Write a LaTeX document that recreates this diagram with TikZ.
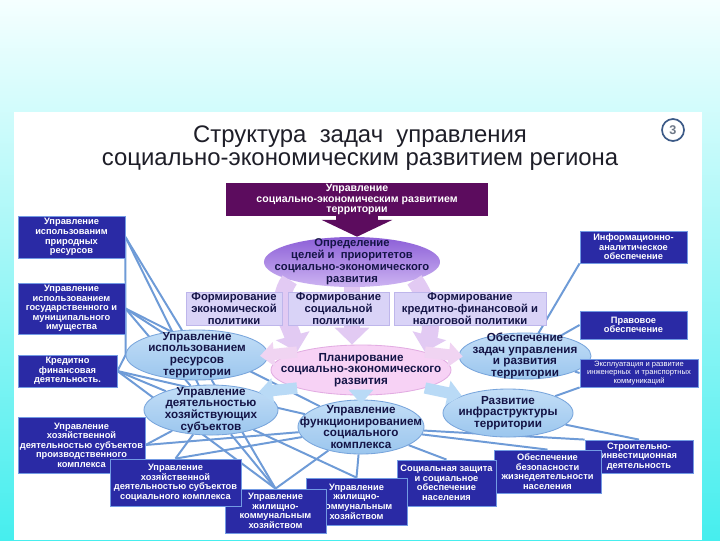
\documentclass[tikz,border=0pt]{standalone}
\usepackage{fontspec}
\setmainfont{Liberation Sans}
\usetikzlibrary{shapes.geometric, arrows.meta}

\definecolor{skytop}{RGB}{245, 255, 255}
\definecolor{skymid}{RGB}{140, 245, 245}
\definecolor{skybot}{RGB}{70, 238, 238}
\definecolor{titlegray}{RGB}{30, 30, 40}
\definecolor{numedge}{RGB}{60, 90, 135}
\definecolor{numgray}{RGB}{110, 120, 135}
\definecolor{plum}{RGB}{92, 12, 94}
\definecolor{goaltop}{RGB}{140, 95, 215}
\definecolor{goalbot}{RGB}{205, 180, 242}
\definecolor{pinkfill}{RGB}{247, 210, 245}
\definecolor{pinkedge}{RGB}{226, 172, 226}
\definecolor{elltop}{RGB}{195, 222, 247}
\definecolor{ellbot}{RGB}{155, 198, 238}
\definecolor{elledge}{RGB}{120, 165, 220}
\definecolor{navytext}{RGB}{20, 20, 70}
\definecolor{lavfill}{RGB}{217, 211, 247}
\definecolor{lavedge}{RGB}{190, 182, 235}
\definecolor{boxblue}{RGB}{42, 42, 165}
\definecolor{boxedge}{RGB}{115, 155, 228}
\definecolor{wireblue}{RGB}{110, 155, 215}
\definecolor{bigarr}{RGB}{226, 202, 243}
\definecolor{paleblue}{RGB}{185, 218, 246}
\definecolor{palepink}{RGB}{240, 212, 242}

\pgfdeclarelayer{bg}
\pgfdeclarelayer{wires}
\pgfsetlayers{bg,wires,main}

\tikzset{
  wire/.style={draw=wireblue, line width=1.4pt},
  darkbox/.style={rectangle, draw=boxedge, fill=boxblue, line width=0.6pt, inner sep=0pt,
    align=center, text=white, font=\bfseries\fontsize{6.6}{6.8}\selectfont},
  lavbox/.style={rectangle, draw=lavedge, fill=lavfill, line width=0.5pt, inner sep=0pt,
    align=center, text=navytext, font=\bfseries\fontsize{8}{8.3}\selectfont},
  topbox/.style={rectangle, fill=plum, inner sep=0pt, align=center, text=white,
    font=\bfseries\fontsize{7.5}{7.6}\selectfont},
  blueell/.style={ellipse, draw=elledge, line width=0.6pt, top color=elltop, bottom color=ellbot, inner sep=0pt},
  planell/.style={ellipse, draw=pinkedge, line width=0.6pt, fill=pinkfill, inner sep=0pt},
  goalell/.style={ellipse, top color=goaltop, bottom color=goalbot, inner sep=0pt},
  elltext/.style={align=center, text=navytext, font=\bfseries\fontsize{8.3}{8.3}\selectfont},
  toparrow/.style={draw=plum, line width=30pt, -{Triangle[width=50pt,length=12pt]}},
  bigarrow/.style={draw=bigarr, line width=12pt, -{Triangle[width=24pt,length=12pt]}},
  palearrow/.style={line width=8pt, -{Triangle[width=17pt,length=10pt]}},
}

\begin{document}
\begin{tikzpicture}[x=0.025cm, y=-0.025cm]
  \useasboundingbox (0,0) rectangle (720,540);

  % --- Background and white panel ---
  \begin{pgfonlayer}{bg}
    \shade[top color=skytop, middle color=skymid, bottom color=skybot] (0,0) rectangle (720,540);
    \fill[white] (14,112) rectangle (702,540);
  \end{pgfonlayer}

  % --- Title ---
  \node[font=\fontsize{17}{16.5}\selectfont, text=titlegray, align=center] (title) at (360,148)
    {Структура~ задач~ управления\\социально-экономическим развитием региона};
  \node[circle, draw=numedge, line width=1.2pt, fill=white, minimum size=0.55cm, inner sep=0pt,
    text=numgray, font=\bfseries\fontsize{9}{9}\selectfont] (num) at (673,130) {3};

  % --- Top level ---
  \node[topbox, minimum width=6.55cm, minimum height=0.825cm] (mgmt) at (357,199.5)
    {Управление\\социально-экономическим развитием\\территории};
  \node[goalell, minimum width=4.4cm, minimum height=1.25cm,
    label={[elltext, font=\bfseries\fontsize{8}{8.5}\selectfont]center:{Определение\\целей и~ приоритетов\\социально-экономического\\развития}}] (opr) at (352,262) {};

  % --- Ellipses ---
  \node[planell, minimum width=4.5cm, minimum height=1.25cm,
    label={[elltext]center:{Планирование\\социально-экономического\\развития}}] (plan) at (361,370) {};
  \node[blueell, minimum width=3.55cm, minimum height=1.25cm,
    label={[elltext]center:{Управление\\использованием\\ресурсов\\территории}}] (res) at (197,355) {};
  \node[blueell, minimum width=3.35cm, minimum height=1.25cm,
    label={[elltext]center:{Управление\\деятельностью\\хозяйствующих\\субъектов}}] (dey) at (211,410) {};
  \node[blueell, minimum width=3.15cm, minimum height=1.35cm,
    label={[elltext]center:{Управление\\функционированием\\социального\\комплекса}}] (fun) at (361,427) {};
  \node[blueell, minimum width=3.3cm, minimum height=1.15cm,
    label={[elltext]center:{Обеспечение\\задач управления\\и развития\\территории}}] (obe) at (525,356) {};
  \node[blueell, minimum width=3.25cm, minimum height=1.2cm,
    label={[elltext]center:{Развитие\\инфраструктуры\\территории}}] (raz) at (508,413) {};

  % --- Arrows ---
  \draw[toparrow] (mgmt.south) -- (mgmt.south |- opr.north);
  \draw[bigarrow] (opr.south west) to[out=235, in=105] (plan.north west);
  \draw[bigarrow] (opr.south) -- (opr.south |- plan.north);
  \draw[bigarrow] (opr.south east) to[out=-55, in=75] (plan.north east);
  \draw[palearrow, draw=palepink, shorten >=-6pt] (plan.north west) -- (res.east);
  \draw[palearrow, draw=paleblue] (plan.south west) -- (dey.north east);
  \draw[palearrow, draw=paleblue] ([yshift=4pt]plan.south) -- ([yshift=-3pt]fun.north);
  \draw[palearrow, draw=palepink, shorten >=-3pt] (plan.north east) -- (obe.west);
  \draw[palearrow, draw=paleblue] (plan.south east) -- (raz.north west);

  % --- Policy boxes ---
  \node[lavbox, minimum width=2.4cm, minimum height=0.825cm] (fecon) at (234,308.5)
    {Формирование\\экономической\\политики};
  \node[lavbox, minimum width=2.525cm, minimum height=0.825cm] (fsoc) at (338.5,308.5)
    {Формирование\\социальной\\политики};
  \node[lavbox, minimum width=3.8cm, minimum height=0.825cm] (ffin) at (470,308.5)
    {Формирование\\кредитно-финансовой и\\налоговой политики};

  % --- Left column ---
  \node[darkbox, minimum width=2.675cm, minimum height=1.05cm] (natres) at (71.5,237)
    {Управление\\использованим\\природных\\ресурсов};
  \node[darkbox, minimum width=2.675cm, minimum height=1.275cm] (prop) at (71.5,308.5)
    {Управление\\использованием\\государственного и\\муниципального\\имущества};
  \node[darkbox, minimum width=2.475cm, minimum height=0.8cm] (cred) at (67.5,371)
    {Кредитно\\финансовая\\деятельность.};
  \node[darkbox, minimum width=3.175cm, minimum height=1.4cm] (prodc) at (81.5,445)
    {Управление\\хозяйственной\\деятельностью субъектов\\производственного\\комплекса};

  % --- Bottom row ---
  \node[darkbox, minimum width=2.7cm, minimum height=0.825cm] (build) at (639,456.5)
    {Строительно-\\инвестиционная\\деятельность};
  \node[darkbox, minimum width=2.675cm, minimum height=1.075cm] (safety) at (547.5,471.5)
    {Обеспечение\\безопасности\\жизнедеятельности\\населения};
  \node[darkbox, minimum width=2.475cm, minimum height=1.15cm] (socprot) at (446.5,483)
    {Социальная защита\\и социальное\\обеспечение\\населения};
  \node[darkbox, minimum width=2.525cm, minimum height=1.175cm] (house2) at (356.5,501.5)
    {Управление\\жилищно-\\коммунальным\\хозяйством};
  \node[darkbox, minimum width=2.525cm, minimum height=1.1cm] (house1) at (275.5,511)
    {Управление\\жилищно-\\коммунальным\\хозяйством};
  \node[darkbox, minimum width=3.275cm, minimum height=1.175cm] (socc) at (175.5,482.5)
    {Управление\\хозяйственной\\деятельностью субъектов\\социального комплекса};

  % --- Right column ---
  \node[darkbox, minimum width=2.675cm, minimum height=0.8cm] (info) at (633.5,247)
    {Информационно-\\аналитическое\\обеспечение};
  \node[darkbox, minimum width=2.675cm, minimum height=0.7cm] (law) at (633.5,325)
    {Правовое\\обеспечение};
  \node[darkbox, minimum width=2.95cm, minimum height=0.7cm, font=\fontsize{5.4}{6}\selectfont] (infra) at (639,373)
    {Эксплуатация и развитие\\инженерных~ и транспортных\\коммуникаций};

  % --- Connectors ---
  \begin{pgfonlayer}{wires}
    \foreach \a/\b in {natres.east/res, natres.east/res.west, natres.east/dey,
                       prop.east/res, prop.east/dey, prop.east/fun,
                       cred.east/res.west, cred.east/dey, cred.east/fun, cred.east/house1.north,
                       prodc.east/dey, prodc.east/fun,
                       socc.north/dey, socc.north/fun,
                       house1.north/dey, house1.north/res, house1.north/fun,
                       house2.north/fun, house2.north/dey,
                       socprot.north/fun, safety.north/fun,
                       build.north/raz, build.north west/fun,
                       info.south west/obe, law.west/obe, infra.west/obe, infra.south west/raz}
      \draw[wire] (\a) -- (\b);
  \end{pgfonlayer}
\end{tikzpicture}
\end{document}
